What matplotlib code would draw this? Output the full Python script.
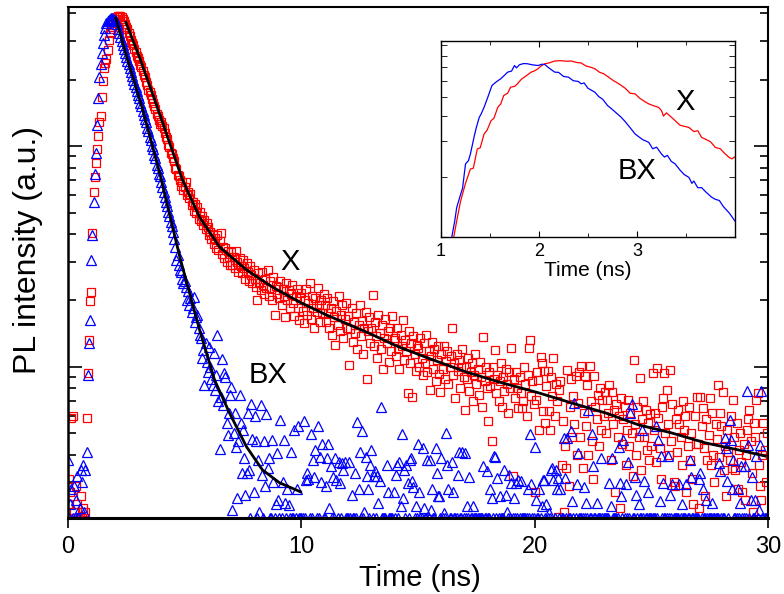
import numpy as np
import matplotlib
matplotlib.use("Agg")
import matplotlib.pyplot as plt
from matplotlib.ticker import LogLocator, NullFormatter, FixedLocator

plt.rcParams['font.family'] = ['Liberation Sans', 'DejaVu Sans']

# TCSPC histogram, 0.05 ns bins, one block of counts per ns (0 = empty bin)
bin_ns = 0.05

red_blocks = [
    [24, 31, 27, 59, 60, 22, 0, 29, 24, 0, 0, 26, 0, 23, 0, 22, 59, 94, 133, 199],
    [219, 404, 620, 724, 838, 969, 1110, 1280, 1367, 1667, 1968, 2254, 2380, 2477, 2719, 3018, 3245, 3400, 3453, 3600],
    [3683, 3760, 3837, 3870, 3874, 3900, 3850, 3780, 3700, 3560, 3480, 3380, 3250, 3150, 3020, 2930, 2860, 2740, 2660, 2560],
    [2500, 2440, 2330, 2290, 2180, 2100, 2050, 1950, 1900, 1800, 1760, 1700, 1640, 1560, 1520, 1470, 1400, 1370, 1310, 1260],
    [1290, 1230, 1210, 1150, 1100, 1080, 1010, 990, 930, 920, 880, 860, 800, 790, 740, 730, 700, 660, 690, 630],
    [650, 690, 600, 620, 580, 610, 540, 560, 510, 545, 500, 530, 470, 505, 460, 480, 440, 465, 420, 450],
    [430, 395, 410, 380, 400, 360, 385, 345, 395, 340, 370, 405, 325, 350, 310, 345, 300, 335, 315, 290],
    [330, 290, 315, 280, 335, 300, 270, 310, 285, 265, 305, 280, 250, 295, 270, 245, 285, 262, 240, 275],
    [250, 230, 201, 265, 240, 222, 270, 235, 215, 250, 228, 275, 210, 245, 225, 200, 255, 172, 232, 215],
    [230, 205, 245, 190, 225, 210, 168, 240, 200, 222, 185, 215, 235, 195, 170, 210, 225, 185, 163, 205],
    [216, 180, 158, 200, 225, 172, 195, 240, 165, 210, 185, 150, 205, 178, 228, 190, 160, 200, 175, 215],
    [190, 160, 205, 175, 150, 185, 140, 198, 168, 126, 180, 155, 210, 145, 172, 190, 135, 165, 195, 150],
    [170, 102, 148, 185, 130, 160, 142, 175, 120, 155, 190, 138, 162, 115, 150, 178, 88, 145, 168, 128],
    [150, 212, 125, 160, 138, 110, 172, 142, 120, 155, 98, 135, 165, 128, 145, 105, 150, 118, 170, 132],
    [135, 112, 150, 120, 98, 140, 125, 163, 108, 132, 118, 76, 145, 104, 128, 73, 138, 115, 96, 126],
    [122, 100, 135, 110, 92, 128, 104, 140, 95, 118, 79, 112, 130, 98, 120, 86, 108, 125, 93, 77],
    [115, 98, 125, 88, 106, 118, 84, 100, 112, 150, 92, 104, 72, 115, 96, 108, 80, 100, 120, 90],
    [64, 100, 88, 110, 78, 95, 104, 70, 92, 115, 84, 98, 75, 105, 90, 66, 137, 86, 100, 80],
    [57, 95, 82, 46, 100, 88, 119, 76, 92, 70, 86, 104, 66, 90, 78, 98, 84, 62, 95, 80],
    [122, 32, 88, 72, 95, 80, 65, 90, 76, 65, 70, 100, 84, 60, 92, 122, 133, 74, 86, 68],
    [27, 71, 95, 87, 52, 111, 104, 63, 96, 56, 82, 96, 63, 52, 90, 74, 110, 60, 84, 70],
    [21, 79, 86, 36, 57, 22, 44, 35, 97, 29, 66, 88, 48, 74, 55, 91, 40, 69, 95, 48],
    [101, 35, 62, 91, 54, 83, 40, 101, 70, 46, 31, 91, 66, 58, 75, 44, 80, 52, 71, 60],
    [77, 50, 71, 62, 83, 38, 77, 55, 64, 27, 68, 48, 60, 23, 72, 45, 58, 66, 36, 52],
    [71, 44, 62, 50, 32, 108, 55, 40, 66, 48, 89, 34, 58, 70, 48, 64, 42, 56, 38, 61],
    [44, 94, 52, 62, 37, 99, 59, 43, 31, 66, 72, 94, 50, 79, 55, 40, 97, 46, 68, 30],
    [29, 58, 41, 64, 55, 48, 36, 70, 52, 60, 27, 44, 66, 38, 50, 31, 24, 60, 45, 73],
    [45, 23, 73, 54, 65, 43, 26, 58, 38, 49, 72, 36, 62, 40, 30, 55, 47, 83, 39, 62],
    [54, 77, 34, 44, 26, 52, 41, 38, 60, 35, 71, 48, 34, 56, 28, 42, 50, 37, 27, 45],
    [25, 40, 52, 58, 64, 46, 33, 22, 56, 48, 71, 76, 36, 29, 25, 40, 56, 42, 30, 50],
]

blue_blocks = [
    [38, 0, 24, 28, 0, 29, 0, 25, 32, 0, 23, 34, 30, 36, 22, 34, 41, 92, 128, 163],
    [305, 395, 560, 750, 929, 1240, 1650, 2052, 2350, 2636, 2926, 3177, 3418, 3603, 3680, 3718, 3760, 3795, 3810, 3760],
    [3720, 3680, 3560, 3400, 3260, 3130, 3000, 2880, 2760, 2650, 2540, 2440, 2350, 2250, 2170, 2080, 2000, 1920, 1850, 1780],
    [1710, 1650, 1560, 1520, 1440, 1390, 1320, 1280, 1210, 1170, 1100, 1070, 1000, 975, 910, 885, 825, 800, 750, 730],
    [690, 655, 620, 590, 560, 535, 505, 485, 455, 435, 410, 380, 350, 305, 320, 290, 275, 268, 250, 240],
    [245, 231, 201, 220, 190, 205, 178, 185, 208, 160, 169, 172, 150, 140, 135, 110, 119, 83, 128, 105],
    [95, 123, 100, 88, 83, 116, 79, 92, 140, 70, 42.5, 73, 109, 67, 94, 90, 56, 49, 62, 75],
    [81, 22.5, 50, 62, 43.5, 25.5, 46, 75, 56, 33, 52, 38.6, 26.3, 33, 62, 34, 0, 68, 47, 27],
    [60, 46, 0, 38, 22, 67, 32.4, 0, 46, 29, 61, 35, 38.6, 0, 0, 46.8, 30, 0, 24, 40.8],
    [25, 0, 57.6, 0, 30, 46.8, 24.3, 0, 28, 23.8, 0, 41, 0, 0, 52, 0, 28, 54, 0, 0],
    [0, 0, 57, 0, 30.8, 33, 31, 0, 49.6, 0, 37.9, 31.8, 42, 0, 54, 0, 39, 30, 45, 0],
    [0, 29, 38.6, 45, 23, 35.5, 0, 31.8, 0, 38.6, 30.8, 0, 37, 29.7, 0, 36.8, 34, 37, 0, 0],
    [0, 37, 0, 26.3, 0, 0, 33, 0, 56.6, 28, 41, 0, 51, 0, 22, 39, 32, 28, 0, 36],
    [42, 0, 32, 33.7, 0, 32, 24.3, 30.4, 66, 0, 0, 0, 0, 36, 27, 0, 0, 0, 0, 27],
    [0, 32.4, 36, 0, 37, 23.4, 49.6, 25.6, 34, 0, 36, 29.7, 0, 38, 38.6, 30.4, 28.6, 0, 23.4, 0],
    [45, 27, 0, 0, 43, 23, 0, 0, 38, 0, 38, 22.5, 28, 0, 0, 43, 33, 26, 26, 0],
    [38.6, 0, 21.8, 0, 50, 36, 28, 0, 0, 37, 27, 0, 0, 0, 32.4, 41, 0, 0, 41, 0],
    [40.8, 0, 23.4, 0, 31.8, 0, 0, 23.4, 0, 0, 0, 0, 0, 0, 0, 0, 35.5, 0, 0, 33.7],
    [0, 0, 28, 25.6, 0, 39.4, 39, 0, 31.5, 0, 26, 0, 0, 0, 34, 26.3, 22, 0, 32.4, 0],
    [29.7, 0, 25.6, 0, 29.9, 0, 30.8, 0, 30.5, 0, 0, 0, 0, 0, 28, 0, 49.6, 29.4, 0, 0],
    [43.5, 25, 0, 0, 28, 0, 23.4, 30.8, 30.8, 0, 24, 0, 21.8, 0, 34, 35, 30.8, 0, 34, 28],
    [31.5, 0, 28, 0, 0, 47.5, 31.5, 0, 47.5, 0, 0, 51, 24.7, 0, 69, 0, 29.4, 40.8, 0, 0],
    [0, 0, 28.6, 0, 24.3, 0, 64, 0, 0, 49.6, 35.5, 0, 0, 24.3, 0, 0, 0, 38.6, 0, 0],
    [0, 0, 0, 0, 29.7, 23.4, 38.6, 0, 0, 0, 0, 0, 43.5, 29.7, 26, 0, 46.8, 0, 29.4, 0],
    [37.2, 0, 62, 68, 0, 0, 31.7, 26.3, 0, 24, 0, 0, 52, 0, 30.4, 0, 0, 27, 0, 0],
    [0, 0, 0, 0, 54, 0, 46.8, 24.7, 39.4, 0, 29.7, 0, 0, 0, 39.4, 0, 26.3, 0, 29.4, 0],
    [0, 0, 0, 0, 29.4, 0, 24, 0, 0, 0, 29.4, 0, 0, 38, 31.7, 0, 0, 0, 0, 0],
    [0, 31, 33, 0, 28, 0, 0, 25, 0, 0, 0, 0, 24.3, 0, 0, 0, 0, 0, 36.8, 33.7],
    [0, 0, 0, 47.5, 43, 30.4, 0, 57.6, 46.8, 28, 38, 0, 0, 0, 28, 0, 24.3, 35.5, 0, 0],
    [35.5, 0, 78, 44.5, 0, 25, 31.7, 0, 0, 25, 39.4, 0, 22.5, 44.5, 77.5, 0, 0, 0, 0, 0],
]

# fitted decays
x_fit_t = [2.48, 3.08, 3.72, 4.36, 4.91, 5.64, 6.50, 7.65, 8.76, 9.91, 11.07, 12.78, 14.19,
           15.60, 17.05, 18.46, 20.17, 21.58, 23.03, 24.44, 25.85, 27.31, 28.72, 29.87]
x_fit_i = [3640, 2500, 1615, 1032, 702, 477, 349, 275, 230, 197, 172, 144, 123,
           108, 95, 85.5, 76.3, 68.7, 61.9, 54.7, 50.3, 45.3, 42.1, 39.5]
bx_fit_t = [2.05, 2.52, 3.21, 3.93, 4.79, 5.64, 6.28, 6.92, 7.65, 8.33, 9.06, 9.96]
bx_fit_i = [3795, 2530, 1455, 755, 315, 147, 87.4, 61.9, 43.5, 34.2, 29.9, 27.2]

# inset: rise of the transients
ins_x_t = [1.13, 1.16, 1.20, 1.25, 1.30, 1.33, 1.37, 1.40, 1.44, 1.47, 1.51, 1.54, 1.58, 1.61,
           1.64, 1.68, 1.71, 1.75, 1.78, 1.82, 1.85, 1.88, 1.92, 1.95, 1.99, 2.02, 2.06, 2.10,
           2.16, 2.22, 2.28, 2.33, 2.38, 2.43, 2.48, 2.53, 2.57, 2.62, 2.66, 2.71, 2.76, 2.80,
           2.84, 2.88, 2.93, 2.98, 3.03, 3.08, 3.12, 3.17, 3.22, 3.25, 3.27, 3.30, 3.35, 3.39,
           3.44, 3.49, 3.53, 3.58, 3.62, 3.66, 3.71, 3.75, 3.80, 3.85, 3.89, 3.94, 3.97, 4.0]
ins_x_i = [1.0, 1.2, 1.51, 1.85, 2.18, 2.2, 2.74, 2.78, 3.26, 3.4, 3.79, 3.9, 4.43, 4.6,
           5.06, 5.2, 5.57, 5.62, 5.79, 6.1, 6.25, 6.4, 6.62, 6.7, 6.88, 7.1, 7.29, 7.35,
           7.52, 7.55, 7.5, 7.52, 7.4, 7.35, 7.1, 7.0, 6.88, 6.6, 6.5, 6.25, 6.0, 5.85,
           5.68, 5.5, 5.2, 5.16, 4.9, 4.72, 4.6, 4.5, 4.42, 4.26, 4.0, 4.15, 3.95, 3.79,
           3.6, 3.55, 3.51, 3.35, 3.38, 3.13, 3.05, 2.98, 2.79, 2.75, 2.62, 2.49, 2.45, 2.51]
ins_bx_t = [1.11, 1.14, 1.16, 1.20, 1.22, 1.25, 1.28, 1.30, 1.34, 1.36, 1.39, 1.41, 1.44, 1.48,
            1.52, 1.56, 1.61, 1.65, 1.68, 1.72, 1.75, 1.77, 1.80, 1.84, 1.88, 1.93, 1.99, 2.03,
            2.06, 2.10, 2.16, 2.20, 2.25, 2.30, 2.35, 2.40, 2.43, 2.46, 2.50, 2.57, 2.61, 2.65,
            2.70, 2.74, 2.80, 2.84, 2.88, 2.93, 2.98, 3.02, 3.06, 3.12, 3.16, 3.20, 3.25, 3.28,
            3.31, 3.35, 3.39, 3.44, 3.48, 3.53, 3.56, 3.58, 3.62, 3.66, 3.70, 3.76, 3.80, 3.84,
            3.88, 3.94, 4.0]
ins_bx_i = [1.0, 1.2, 1.40, 1.63, 1.75, 2.31, 2.4, 2.59, 3.19, 3.5, 3.94, 4.1, 4.43, 5.0,
            5.68, 5.9, 6.14, 6.4, 6.62, 6.7, 7.14, 6.95, 7.2, 7.3, 7.29, 7.2, 7.14, 7.25,
            7.22, 6.95, 6.62, 6.6, 6.3, 6.25, 6.0, 5.95, 5.79, 5.85, 5.5, 5.26, 5.0, 4.85,
            4.51, 4.35, 4.1, 3.94, 3.75, 3.5, 3.26, 3.15, 3.05, 2.96, 2.75, 2.8, 2.59, 2.5,
            2.55, 2.38, 2.31, 2.15, 2.05, 1.98, 1.85, 1.9, 1.76, 1.76, 1.68, 1.58, 1.54, 1.52,
            1.42, 1.32, 1.20]


def flatten(blocks):
    t = np.concatenate([k + bin_ns * np.arange(len(b)) for k, b in enumerate(blocks)])
    v = np.concatenate([np.asarray(b, dtype=float) for b in blocks])
    return t, v


y_lo, y_hi = 20.7, 4260
t_red, red = flatten(red_blocks)
t_blue, blue = flatten(blue_blocks)
red = np.where(red > 0, red, y_lo)     # empty bins sit on the floor
blue = np.where(blue > 0, blue, y_lo)

fig = plt.figure(figsize=(7.84, 5.94), dpi=100)
ax = fig.add_axes([0.0867, 0.128, 0.893, 0.860])

ax.plot(t_red, red, ls='none', marker='s', ms=5.5, mfc='none', mec='#ff0000', mew=0.9)
ax.plot(t_blue, blue, ls='none', marker='^', ms=6.5, mfc='none', mec='#0000ff', mew=0.9)
ax.plot(x_fit_t, x_fit_i, color='black', lw=2)
ax.plot(bx_fit_t, bx_fit_i, color='black', lw=2)

ax.set_yscale('log')
ax.set_xlim(0, 30)
ax.set_ylim(y_lo, y_hi)
ax.set_xticks([0, 10, 20, 30])
ax.tick_params(axis='x', direction='out', length=7, width=1.2, labelsize=17, pad=6, top=False)
ax.yaxis.set_major_locator(LogLocator(base=10))
ax.yaxis.set_minor_locator(LogLocator(base=10, subs=np.arange(2, 10)))
ax.yaxis.set_major_formatter(NullFormatter())
ax.yaxis.set_minor_formatter(NullFormatter())
ax.tick_params(axis='y', which='both', direction='in', left=True, right=True, width=1.2)
ax.tick_params(axis='y', which='major', length=10)
ax.tick_params(axis='y', which='minor', length=6)
ax.spines['bottom'].set_linewidth(2.2)
ax.spines['left'].set_linewidth(1.8)
ax.spines['top'].set_linewidth(1.5)
ax.spines['right'].set_linewidth(1.5)

ax.text(9.5, 299, 'X', fontsize=21, ha='center', va='center')
ax.text(8.55, 92, 'BX', fontsize=21, ha='center', va='center')

fig.text(0.536, 0.027, 'Time (ns)', fontsize=21, ha='center', va='center')
fig.text(0.036, 0.579, 'PL intensity (a.u.)', fontsize=23, rotation=90, ha='center', va='center')

# inset
axi = fig.add_axes([0.5625, 0.601, 0.375, 0.330])
axi.plot(ins_x_t, ins_x_i, color='#ff0000', lw=0.9)
axi.plot(ins_bx_t, ins_bx_i, color='#0000ff', lw=0.9)
axi.set_yscale('log')
axi.set_xlim(1, 4)
axi.set_ylim(1.0, 9.46)
axi.xaxis.set_major_locator(FixedLocator([1, 2, 3]))
axi.xaxis.set_minor_locator(FixedLocator([1.5, 2.5, 3.5]))
axi.yaxis.set_major_locator(LogLocator(base=10))
axi.yaxis.set_minor_locator(LogLocator(base=10, subs=np.arange(2, 10)))
axi.yaxis.set_major_formatter(NullFormatter())
axi.yaxis.set_minor_formatter(NullFormatter())
axi.tick_params(axis='x', which='both', direction='in', top=True, bottom=True, labelsize=13, pad=4)
axi.tick_params(axis='x', which='major', length=4)
axi.tick_params(axis='x', which='minor', length=3)
axi.tick_params(axis='y', which='both', direction='in', left=True, right=True, length=4)
axi.set_xlabel('Time (ns)', fontsize=15, labelpad=1)
for s in axi.spines.values():
    s.set_linewidth(1.0)
axi.text(3.49, 4.72, 'X', fontsize=21, ha='center', va='center')
axi.text(3.0, 2.13, 'BX', fontsize=21, ha='center', va='center')

fig.savefig('out.png', dpi=100)
